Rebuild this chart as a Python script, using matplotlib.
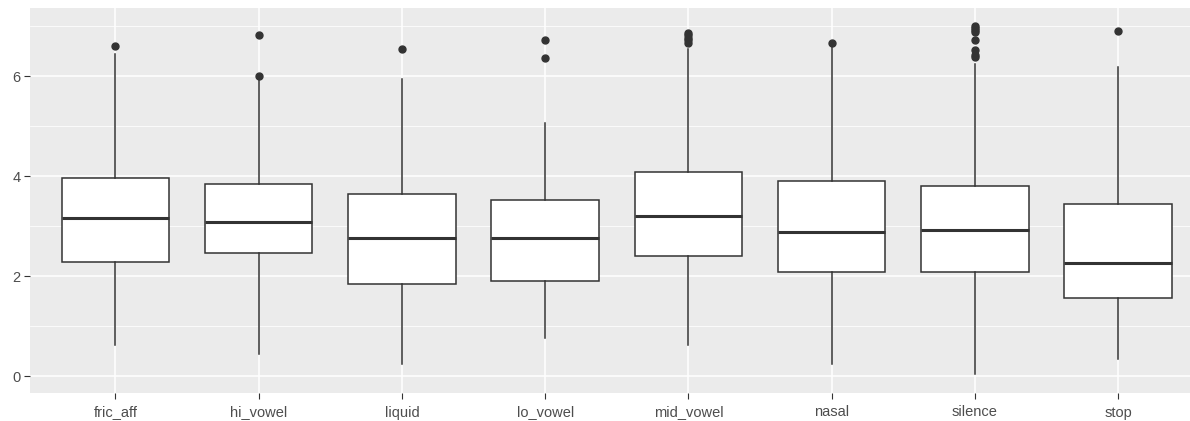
import matplotlib
matplotlib.use('Agg')
import matplotlib.pyplot as plt

plt.rcParams['font.family'] = ['Liberation Sans', 'DejaVu Sans']

# values
categories = ['fric_aff', 'hi_vowel', 'liquid', 'lo_vowel', 'mid_vowel', 'nasal', 'silence', 'stop']
whisker_low = [0.62, 0.45, 0.25, 0.77, 0.62, 0.25, 0.05, 0.35]
q1 = [2.29, 2.46, 1.85, 1.91, 2.40, 2.09, 2.09, 1.57]
median = [3.17, 3.09, 2.77, 2.77, 3.20, 2.89, 2.92, 2.27]
q3 = [3.97, 3.85, 3.65, 3.53, 4.09, 3.91, 3.80, 3.45]
whisker_high = [6.45, 5.95, 5.95, 5.07, 6.55, 6.58, 6.24, 6.19]
outliers = [
    [6.61],
    [6.00, 6.82],
    [6.55],
    [6.37, 6.73],
    [6.67, 6.72, 6.77, 6.82, 6.86],
    [6.67],
    [6.39, 6.43, 6.52, 6.73, 6.88, 6.92, 6.96, 7.00],
    [6.90],
]

stats = []
for i, cat in enumerate(categories):
    stats.append({
        'label': cat,
        'whislo': whisker_low[i],
        'q1': q1[i],
        'med': median[i],
        'q3': q3[i],
        'whishi': whisker_high[i],
        'fliers': outliers[i],
    })

W, H = 1190, 421
fig = plt.figure(figsize=(W / 100, H / 100), dpi=100)
fig.patch.set_facecolor('white')

# panel runs past the right edge of the picture (it is cropped there)
left, right, top, bottom = 29.5, 1204, 8.3, 393
ax = fig.add_axes([left / W, (H - bottom) / H, (right - left) / W, (bottom - top) / H])
ax.set_facecolor('#EBEBEB')

ax.set_xlim(0.4, 8.6)
ax.set_ylim(-0.34, 7.354)

# ggplot-like grid
for y in [1, 3, 5, 7]:
    ax.axhline(y, color='white', lw=0.55, zorder=0)
for y in [0, 2, 4, 6]:
    ax.axhline(y, color='white', lw=1.1, zorder=0)
for x in range(1, len(categories) + 1):
    ax.axvline(x, color='white', lw=1.1, zorder=0)

line_col = '#333333'
ax.bxp(stats, positions=range(1, len(categories) + 1), widths=0.75,
       patch_artist=True, showcaps=False,
       boxprops=dict(facecolor='white', edgecolor=line_col, linewidth=1.1),
       whiskerprops=dict(color=line_col, linewidth=1.1),
       medianprops=dict(color=line_col, linewidth=2.2),
       flierprops=dict(marker='o', markerfacecolor=line_col, markeredgecolor=line_col,
                       markersize=5, linestyle='none'),
       zorder=2)

ax.set_xticks(range(1, len(categories) + 1))
ax.set_xticklabels(categories)
ax.set_yticks([0, 2, 4, 6])
ax.set_yticklabels(['0', '2', '4', '6'])
ax.tick_params(axis='both', colors='#333333', length=4, width=0.8,
               labelsize=10.5, labelcolor='#4D4D4D')
ax.tick_params(axis='x', pad=5)
ax.tick_params(axis='y', pad=2.5)

for s in ax.spines.values():
    s.set_visible(False)

fig.savefig('out.png', dpi=100)
